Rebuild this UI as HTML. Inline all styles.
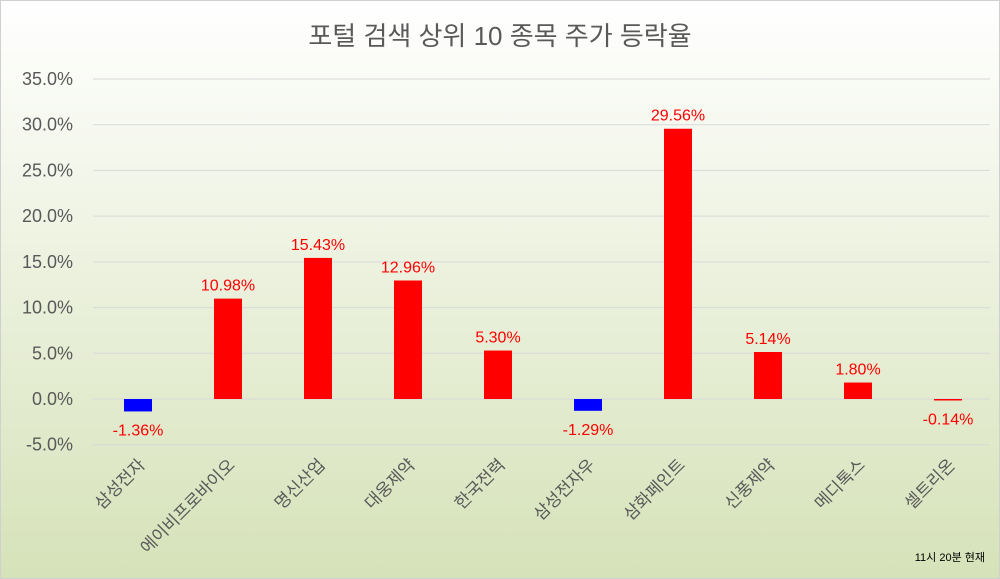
<!DOCTYPE html>
<html><head><meta charset="utf-8"><style>
body{margin:0;width:1000px;height:579px;overflow:hidden}
svg{display:block;font-family:"Liberation Sans","Noto Sans CJK KR",sans-serif}
</style></head><body>
<svg id="c" width="1000" height="579">
<defs><linearGradient id="bg" x1="0" y1="0" x2="0" y2="1"><stop offset="0" stop-color="#ffffff"/><stop offset="1" stop-color="#d6e2b9"/></linearGradient></defs>
<rect x="0.5" y="0.5" width="999" height="578" fill="url(#bg)" stroke="#d0d0d0"/>
<text x="500" y="45" text-anchor="middle" font-size="26" fill="#595959">포털 검색 상위 10 종목 주가 등락율</text>
<text x="985" y="561" text-anchor="end" font-size="11" fill="#000">11시 20분 현재</text>
<g id="grid"></g><g id="bars"></g>
</svg>
<script>
const categories=["삼성전자","에이비프로바이오","명신산업","대웅제약","한국전력","삼성전자우","삼화페인트","신풍제약","메디톡스","셀트리온"];
const values=[-1.36,10.98,15.43,12.96,5.30,-1.29,29.56,5.14,1.80,-0.14];
const labels=["-1.36%","10.98%","15.43%","12.96%","5.30%","-1.29%","29.56%","5.14%","1.80%","-0.14%"];
const ticks=[-5,0,5,10,15,20,25,30,35];
const NS="http://www.w3.org/2000/svg";
const x0=93,x1=993,band=(x1-x0)/categories.length;
const y=v=>399-v*(320/35);
const xc=i=>x0+band*(i+0.5);
function mk(t,a,p){const e=document.createElementNS(NS,t);for(const k in a)e.setAttribute(k,a[k]);p.appendChild(e);return e;}
const g=document.getElementById('grid'),b=document.getElementById('bars');
ticks.forEach(t=>{
 const l=mk('line',{x1:x0,x2:990,y1:y(t),y2:y(t),stroke:'#d9d9d9','stroke-width':1},g);
 
 
 const tx=mk('text',{x:73,y:y(t)+6,'text-anchor':'end','font-size':18,fill:'#595959'},g);
 tx.textContent=t.toFixed(1)+'%';
 
 
});
values.forEach((v,i)=>{
 const top=Math.min(y(v),y(0)),h=Math.max(Math.abs(y(v)-y(0)),1.5);
 const r=mk('rect',{x:xc(i)-14,y:top,width:28,height:h,fill:v<0&&v<-0.5?'#0000ff':'#ff0000'},b);
 
 
 const ly=v>=0?y(v)-8:y(v)+24;
 const t=mk('text',{x:xc(i),y:ly,'text-anchor':'middle','font-size':16,fill:'#ff0000'},b);
 t.textContent=labels[i];
 
 
 const c=mk('text',{x:0,y:0,'text-anchor':'end','font-size':17,fill:'#595959',transform:`translate(${xc(i)+8},${466}) rotate(-45)`},b);
 c.textContent=categories[i];
 
 
});
</script>
</body></html>
